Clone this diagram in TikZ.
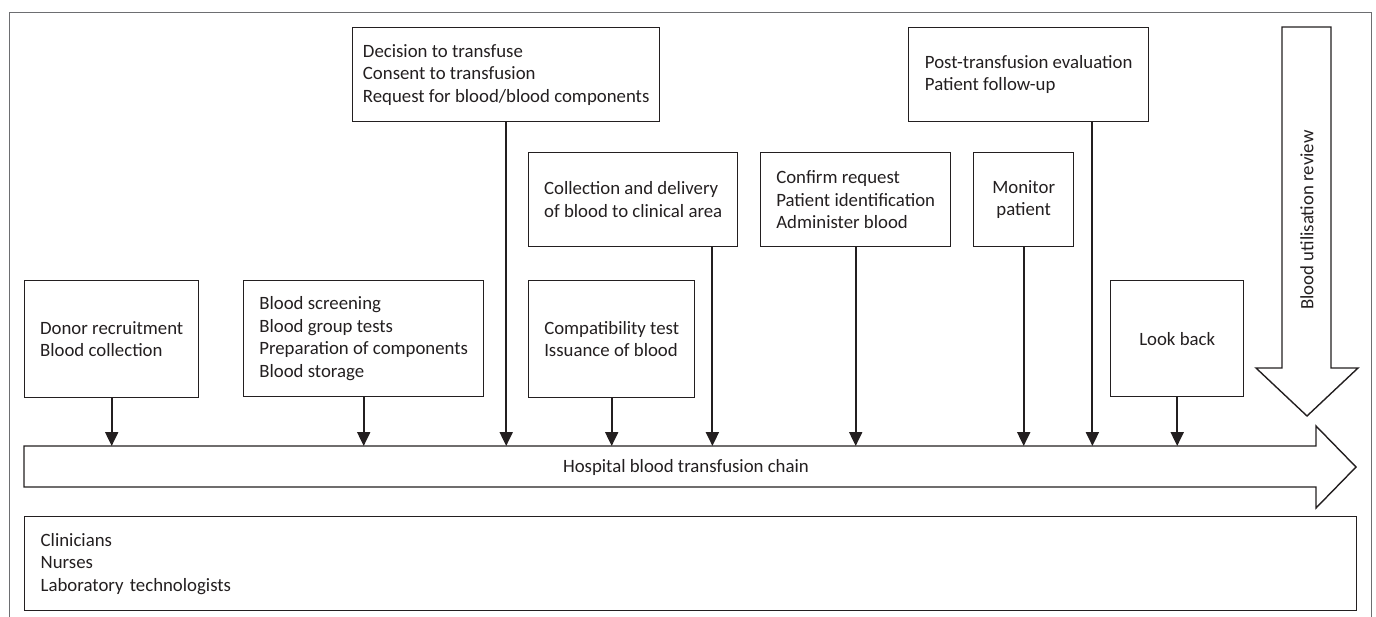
\documentclass[tikz,border=0pt]{standalone}
\usepackage{fontspec}
\setmainfont{Carlito}
\usetikzlibrary{arrows.meta}
\definecolor{ink}{HTML}{231F20}
\definecolor{rim}{HTML}{6D6E71}

\begin{document}
\begin{tikzpicture}[x=1pt,y=-1pt,
    every node/.style={font=\fontsize{18.8}{22.5}\selectfont, text=ink},
    stage/.style={draw=ink, line width=1.4pt, inner sep=0pt, align=left, anchor=north west},
    feed/.style={draw=ink, line width=2pt, -{Triangle[width=13pt,length=14pt]}},
    big/.style={draw=ink, line width=1.4pt, fill=white}]
  \useasboundingbox (0,0) rectangle (1376,616);

  % outer frame
  \draw[rim, line width=0.8pt] (9,620) -- (9,12) -- (1371,12) -- (1371,620);

  % the chain
  \coordinate (chaintop) at (24,446);
  \draw[big] (24,446) -- (1316,446) -- (1316,426) -- (1356,467)
             -- (1316,508) -- (1316,487) -- (24,487) -- cycle;
  \node (chain) at (686,467) {Hospital blood transfusion chain};

  % review arrow
  \draw[big] (1282,27) -- (1331,27) -- (1331,368) -- (1358,368)
             -- (1307,416) -- (1256,368) -- (1282,368) -- cycle;
  \node[rotate=90] (review) at (1307,220) {Blood utilisation review};

  % steps
  \node[stage, minimum width=174pt, minimum height=117pt] (donor) at (24,280)
       {Donor recruitment\\Blood collection};
  \node[stage, minimum width=240pt, minimum height=116pt] (screen) at (243,280)
       {Blood screening\\Blood group tests\\Preparation of components\\Blood storage};
  \node[stage, minimum width=307pt, minimum height=94pt] (decide) at (352,27)
       {Decision to transfuse\\Consent to transfusion\\Request for blood/blood components};
  \node[stage, minimum width=166pt, minimum height=117pt] (compat) at (528,280)
       {Compatibility test\\Issuance of blood};
  \node[stage, minimum width=209pt, minimum height=94pt] (collect) at (528,152)
       {Collection and delivery\\of blood to clinical area};
  \node[stage, minimum width=190pt, minimum height=94pt] (confirm) at (760,152)
       {Confirm request\\Patient identification\\Administer blood};
  \node[stage, align=center, minimum width=100pt, minimum height=94pt] (monitor) at (973,152)
       {Monitor\\patient};
  \node[stage, minimum width=240pt, minimum height=94pt] (post) at (908,27)
       {Post-transfusion evaluation\\Patient follow-up};
  \node[stage, align=center, minimum width=133pt, minimum height=116pt] (lookback) at (1110,280)
       {Look back};

  % staff
  \node[stage, text width=1300pt, inner xsep=16pt, minimum height=94pt] (staff) at (24,516)
       {Clinicians\\Nurses\\Laboratory technologists};

  \coordinate (collectout) at ([xshift=-26pt]collect.south east);
  \coordinate (postout) at ([xshift=-57pt]post.south east);

  \draw[feed] (donor.south) -- (donor.south |- chaintop);
  \draw[feed] (screen.south) -- (screen.south |- chaintop);
  \draw[feed] (decide.south) -- (decide.south |- chaintop);
  \draw[feed] (compat.south) -- (compat.south |- chaintop);
  \draw[feed] (collectout) -- (collectout |- chaintop);
  \draw[feed] (confirm.south) -- (confirm.south |- chaintop);
  \draw[feed] (monitor.south) -- (monitor.south |- chaintop);
  \draw[feed] (postout) -- (postout |- chaintop);
  \draw[feed] (lookback.south) -- (lookback.south |- chaintop);
\end{tikzpicture}
\end{document}
